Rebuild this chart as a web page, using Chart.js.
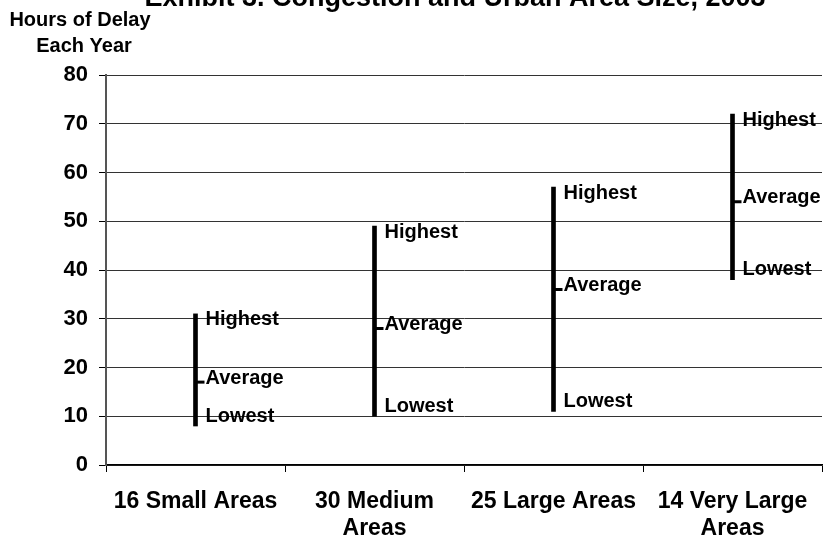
<!DOCTYPE html>
<html>
<head>
<meta charset="utf-8">
<script src="https://cdn.jsdelivr.net/npm/chart.js@4.4.1/dist/chart.umd.min.js"></script>
<style>
  html, body { margin: 0; padding: 0; background: #fff; }
  #wrap { width: 828px; height: 540px; }
</style>
</head>
<body>
<div id="wrap"><canvas id="c" width="828" height="540"></canvas></div>
<script>
// ---- data ----
const categories = [['16 Small Areas'], ['30 Medium', 'Areas'], ['25 Large Areas'], ['14 Very Large', 'Areas']];
const lowest  = [8, 10, 11, 38];
const highest = [31, 49, 57, 72];
const average = [17, 28, 36, 54];
const yTicks  = [0, 10, 20, 30, 40, 50, 60, 70, 80];
const titleText = 'Exhibit 3. Congestion and Urban Area Size, 2003';
const yTitleLines = ['Hours of Delay', 'Each Year'];

const FONT = "'Liberation Sans', Arial, sans-serif";

const annotatePlugin = {
  id: 'annotate',
  afterDatasetsDraw(chart) {
    const ctx = chart.ctx;
    const xs = chart.scales.x, ys = chart.scales.y;
    ctx.save();
    ctx.fillStyle = '#000';
    ctx.strokeStyle = '#000';
    ctx.font = 'bold 20px ' + FONT;
    ctx.textAlign = 'left';
    ctx.textBaseline = 'middle';
    for (let i = 0; i < average.length; i++) {
      const x = xs.getPixelForValue(i);
      const yh = ys.getPixelForValue(highest[i]);
      const ya = ys.getPixelForValue(average[i]);
      const yl = ys.getPixelForValue(lowest[i]);
      // average tick
      ctx.lineWidth = 3;
      ctx.beginPath();
      ctx.moveTo(x, ya);
      ctx.lineTo(x + 9, ya);
      ctx.stroke();
      ctx.fillText('Highest', x + 10, yh + 6);
      ctx.fillText('Average', x + 10, ya - 4);
      ctx.fillText('Lowest', x + 10, yl - 10);
    }
    ctx.restore();
  },
  afterDraw(chart) {
    const ctx = chart.ctx;
    ctx.save();
    ctx.fillStyle = '#000';
    ctx.textAlign = 'center';
    ctx.textBaseline = 'alphabetic';
    ctx.font = 'bold 27px ' + FONT;
    ctx.fillText(titleText, 455, 6);
    ctx.font = 'bold 20px ' + FONT;
    ctx.textBaseline = 'middle';
    ctx.fillText(yTitleLines[0], 80, 20);
    ctx.fillText(yTitleLines[1], 84, 46);
    ctx.restore();
  }
};

new Chart(document.getElementById('c'), {
  type: 'bar',
  data: {
    labels: categories,
    datasets: [{
      data: lowest.map((l, i) => [l, highest[i]]),
      backgroundColor: '#000',
      borderWidth: 0,
      barThickness: 4
    }]
  },
  options: {
    responsive: false,
    animation: false,
    devicePixelRatio: 1,
    layout: { padding: { top: 75, right: 6, left: 0, bottom: 0 } },
    plugins: { legend: { display: false }, tooltip: { enabled: false }, title: { display: false } },
    scales: {
      x: {
        offset: true,
        afterFit(scale) { scale.height = 75; },
        grid: {
          offset: true,
          drawOnChartArea: true,
          color: (c) => c.index === 4 ? '#888' : 'rgba(0,0,0,0)',
          tickColor: '#000',
          tickLength: 7,
          lineWidth: 1
        },
        border: { color: '#000', width: 1.5 },
        ticks: {
          color: '#000',
          font: { family: FONT, size: 23, weight: 'bold', lineHeight: 1.17 },
          padding: 16,
          maxRotation: 0,
          autoSkip: false
        }
      },
      y: {
        min: 0, max: 80,
        afterFit(scale) { scale.width = 106; },
        afterBuildTicks(scale) { scale.ticks = yTicks.map(v => ({ value: v })); },
        grid: { color: '#333', tickColor: '#000', tickLength: 7, lineWidth: 1 },
        border: { color: '#555', width: 2 },
        ticks: {
          color: '#000',
          font: { family: FONT, size: 22, weight: 'bold' },
          padding: 11
        }
      }
    }
  },
  plugins: [annotatePlugin]
});
</script>
</body>
</html>
